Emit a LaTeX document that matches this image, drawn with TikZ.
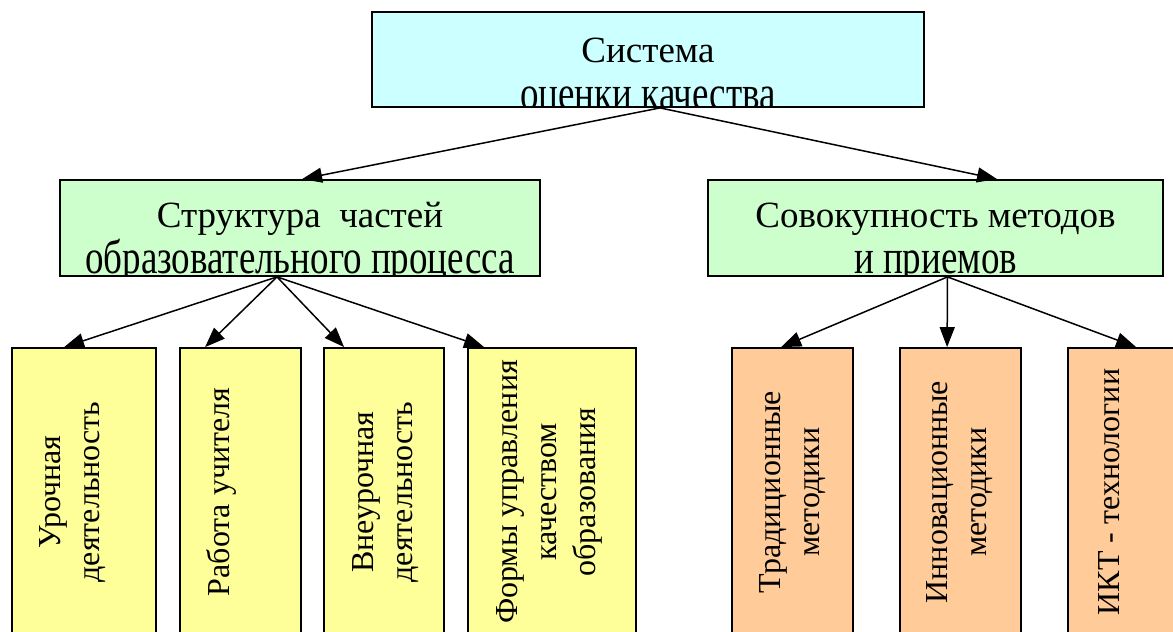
\documentclass[tikz,border=0pt]{standalone}
\usepackage{fontspec}
\setmainfont{Liberation Serif}
\usepackage{graphicx}
\usepackage{tikz}
\usetikzlibrary{positioning, arrows.meta, calc}

\definecolor{syscyan}{HTML}{CCFFFF}
\definecolor{partgreen}{HTML}{CCFFCC}
\definecolor{formyellow}{HTML}{FFFF99}
\definecolor{methorange}{HTML}{FFCC99}

\newcommand{\cutline}[1]{\scalebox{1}[1.3]{#1}}

\tikzset{
  box/.style={rectangle, draw, line width=1.8pt, inner sep=0pt},
  arr/.style={-{Triangle[length=20pt, width=15pt]}, line width=1.5pt},
  htext/.style={anchor=base, inner sep=0pt, font=\fontsize{37}{42}\selectfont},
  vtext/.style={rotate=90, align=center, inner sep=0pt, font=\fontsize{32}{39}\selectfont}
}

\begin{document}
\begin{tikzpicture}[x=1pt, y=-1pt]
\useasboundingbox (0,0) rectangle (1173,632);
\clip (0,0) rectangle (1173,632);

% top level
\node[box, fill=syscyan, minimum width=552pt, minimum height=95pt, path picture={
    \node[htext] (sys1) at ([yshift=-50pt]path picture bounding box.north) {Система};
    \node[htext] (sys2) at ([yshift=-97pt]path picture bounding box.north) {\cutline{оценки качества}};
  }] (sys) at (648,59.5) {};

% second level
\node[box, fill=partgreen, minimum width=480pt, minimum height=96pt, path picture={
    \node[htext] (part1) at ([yshift=-47pt]path picture bounding box.north) {Структура~\ частей};
    \node[htext] (part2) at ([yshift=-93pt]path picture bounding box.north) {\cutline{образовательного процесса}};
  }] (part) at (300,228) {};
\node[box, fill=partgreen, minimum width=455pt, minimum height=96pt, path picture={
    \node[htext] (meth1) at ([yshift=-47pt]path picture bounding box.north) {Совокупность методов};
    \node[htext] (meth2) at ([yshift=-93pt]path picture bounding box.north) {\cutline{и приемов}};
  }] (meth) at (935.5,228) {};

% third level, left
\node[box, fill=formyellow, minimum width=144pt, minimum height=288pt] (b1) at (84,492) {};
\node[box, fill=formyellow, minimum width=121pt, minimum height=288pt] (b2) at (240.5,492) {};
\node[box, fill=formyellow, minimum width=120pt, minimum height=288pt] (b3) at (384,492) {};
\node[box, fill=formyellow, minimum width=168pt, minimum height=288pt] (b4) at (552,492) {};
\node[vtext] (b1t) at ([xshift=-11pt]b1.center) {Урочная\\деятельность};
\node[vtext] (b2t) at ([xshift=-19pt]b2.center) {Работа учителя};
\node[vtext] (b3t) at ([xshift=2pt]b3.center) {Внеурочная\\деятельность};
\node[vtext] (b4t) at ([xshift=-3pt]b4.center) {Формы управления\\качеством\\образования};

% third level, right
\node[box, fill=methorange, minimum width=121pt, minimum height=288pt] (b5) at (792.5,492) {};
\node[box, fill=methorange, minimum width=121pt, minimum height=288pt] (b6) at (960.5,492) {};
\node[box, fill=methorange, minimum width=120pt, minimum height=288pt] (b7) at (1128,492) {};
\node[vtext] (b5t) at (b5.center) {Традиционные\\методики};
\node[vtext] (b6t) at ([xshift=-1pt]b6.center) {Инновационные\\методики};
\node[vtext] (b7t) at ([xshift=-19pt]b7.center) {ИКТ - технологии};

\draw[arr] ([xshift=12pt]sys.south) -- ([xshift=243pt]part.north west);
\draw[arr] ([xshift=12pt]sys.south) -- ([xshift=290pt]meth.north west);

\draw[arr] ([xshift=-23pt]part.south) -- ([xshift=53pt]b1.north west);
\draw[arr] ([xshift=-23pt]part.south) -- ([xshift=26pt]b2.north west);
\draw[arr] ([xshift=-23pt]part.south) -- ([xshift=21pt]b3.north west);
\draw[arr] ([xshift=-23pt]part.south) -- ([xshift=17pt]b4.north west);

\draw[arr] ([xshift=12pt]meth.south) -- ([xshift=50pt]b5.north west);
\draw[arr] ([xshift=12pt]meth.south) -- ([xshift=48pt]b6.north west);
\draw[arr] ([xshift=12pt]meth.south) -- ([xshift=69pt]b7.north west);
\end{tikzpicture}
\end{document}
